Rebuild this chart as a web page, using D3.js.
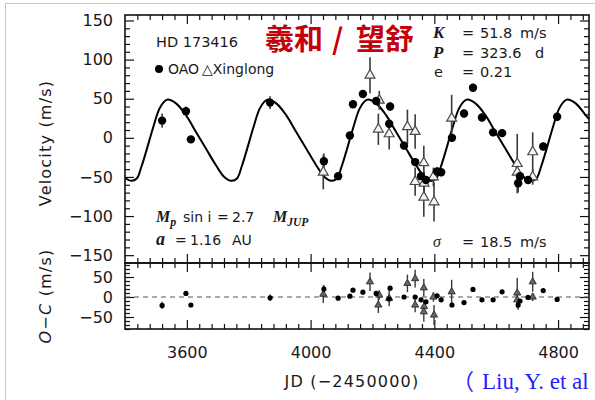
<!DOCTYPE html>
<html>
<head>
<meta charset="utf-8">
<script src="https://cdn.jsdelivr.net/npm/d3@7"></script>
<style>
	body { margin: 0; background: #fff; }
	svg { display: block; }
	text { font-family: "DejaVu Sans", sans-serif; fill: #1a1a1a; }
</style>
</head>
<body>
<div id="chartDiv"></div>
<script>
// OAO velocities (filled dots): JD-2450000, RV, error, O-C
const oaoJD  = [3520, 3597, 3613, 3869, 4043, 4089, 4127, 4137, 4169, 4212, 4254, 4257, 4302, 4338, 4357, 4373, 4409, 4422, 4457, 4496, 4525, 4554, 4590, 4619, 4671, 4677, 4703, 4752, 4797];
const oaoRV  = [22, 34, -2, 45, -30, -49, 3, 43, 56, 47, 18, 40, -10, -31, -49, -54, -43, -44, 0, 31, 64, 26, 7, 6, -58, -49, -54, -11, 27];
const oaoErr = [9, 6, 4, 8, 10, 4, 4, 4, 5, 5, 5, 5, 5, 5, 5, 5, 5, 5, 5, 5, 5, 5, 5, 5, 12, 5, 5, 5, 5];
const oaoOC  = [-21, 9, -20, -2, 20, -3, 2, 17, 12, 9, -5, 22, 0, 0, -7, -12, 3, -7, -20, -14, 19, -7, -7, 13, -20, -10, -1, 16, -6];

// Xinglong velocities (open triangles)
const xlJD  = [4041, 4192, 4222, 4219, 4254, 4313, 4338, 4338, 4366, 4367, 4366, 4399, 4397, 4456, 4668, 4668, 4718, 4718];
const xlRV  = [-44, 80, 48, 11, 5, 14, 8, -56, -32, -58, -76, -82, -50, 25, -33, -44, -18, -50];
const xlErr = [22, 23, 12, 20, 20, 22, 22, 18, 22, 15, 25, 25, 12, 30, 38, 15, 25, 10];
const xlOC  = [7, 38, 5, -20, -3, 34, 46, -20, 23, -24, -37, -45, 0, 13, 10, -7, 38, 0];

// orbital fit
const fitJD = [3400, 3420, 3438, 3453, 3468, 3490, 3511, 3526, 3538, 3565, 3597, 3630, 3662, 3694, 3721,
	3744, 3762, 3777, 3792, 3814, 3835, 3850, 3862, 3889, 3921, 3954, 3986, 4018, 4045,
	4067, 4085, 4100, 4115, 4137, 4158, 4173, 4185, 4212, 4244, 4277, 4309, 4341, 4368,
	4388, 4406, 4421, 4436, 4458, 4479, 4494, 4506, 4533, 4565, 4598, 4630, 4662, 4689,
	4712, 4730, 4745, 4760, 4782, 4803, 4818, 4830, 4857, 4889, 4900];
const fitRV = [-51, -55, -52, -37, -18, 12, 37, 46, 49, 44, 29, 7, -14, -35, -50,
	-55, -52, -37, -18, 12, 37, 46, 49, 44, 29, 7, -14, -35, -50,
	-55, -52, -37, -18, 12, 37, 46, 49, 44, 29, 7, -14, -35, -50,
	-55, -52, -37, -18, 12, 37, 46, 49, 44, 29, 7, -14, -35, -50,
	-55, -52, -37, -18, 12, 37, 46, 49, 44, 29, 24];

const xTicks = [3600, 4000, 4400, 4800];
const velTicks = [-150, -100, -50, 0, 50, 100, 150];
const ocTicks = [-50, 0, 50];

;(function() {
	var width = 595, height = 400;
	var box = { left: 125, right: 589, top: 15, mid: 263, bottom: 329 };

	var svg = d3.select("#chartDiv").append("svg")
		.attr("width", width)
		.attr("height", height);

	// page borders of the screenshot
	svg.append("line").attr("x1", 5).attr("x2", width).attr("y1", 3.5).attr("y2", 3.5).attr("stroke", "#c8c8c8");
	svg.append("line").attr("x1", 5.5).attr("x2", 5.5).attr("y1", 3).attr("y2", height).attr("stroke", "#c8c8c8");

	var x = d3.scaleLinear().domain([3400, 4900]).range([box.left, box.right]);
	var yV = d3.scaleLinear().domain([-160, 157]).range([box.mid, box.top]);
	var yC = d3.scaleLinear().domain([-80, 85]).range([box.bottom, box.mid]);

	var xMinor = d3.range(3440, 4900, 40).filter(v => !xTicks.includes(v));
	var vMinor = d3.range(-150, 151, 10).filter(v => v % 50 !== 0);
	var cMinor = d3.range(-80, 81, 10).filter(v => v % 50 !== 0);

	function ticks(axis, values, size, tx, ty) {
		svg.append("g")
			.attr("transform", "translate(" + tx + "," + ty + ")")
			.call(axis.tickValues(values).tickSize(size).tickFormat(""))
			.call(g => g.select(".domain").remove())
			.selectAll("line").attr("stroke", "#111").attr("stroke-width", 1.2);
	}

	// inward ticks, both panels
	ticks(d3.axisTop(x), xTicks, -9, 0, box.top);
	ticks(d3.axisTop(x), xMinor, -5, 0, box.top);
	ticks(d3.axisBottom(x), xTicks, -9, 0, box.mid);
	ticks(d3.axisBottom(x), xMinor, -5, 0, box.mid);
	ticks(d3.axisTop(x), xTicks, -9, 0, box.mid);
	ticks(d3.axisTop(x), xMinor, -5, 0, box.mid);
	ticks(d3.axisBottom(x), xTicks, -9, 0, box.bottom);
	ticks(d3.axisBottom(x), xMinor, -5, 0, box.bottom);
	ticks(d3.axisLeft(yV), velTicks, -9, box.left, 0);
	ticks(d3.axisLeft(yV), vMinor, -5, box.left, 0);
	ticks(d3.axisRight(yV), velTicks, -9, box.right, 0);
	ticks(d3.axisRight(yV), vMinor, -5, box.right, 0);
	ticks(d3.axisLeft(yC), ocTicks, -9, box.left, 0);
	ticks(d3.axisLeft(yC), cMinor, -5, box.left, 0);
	ticks(d3.axisRight(yC), ocTicks, -9, box.right, 0);
	ticks(d3.axisRight(yC), cMinor, -5, box.right, 0);

	// tick labels
	function labels(axis, values, pad, tx, ty) {
		var g = svg.append("g")
			.attr("transform", "translate(" + tx + "," + ty + ")")
			.call(axis.tickValues(values).tickSize(0).tickPadding(pad).tickFormat(d3.format("d")));
		g.select(".domain").remove();
		g.attr("font-size", 16).attr("font-family", "DejaVu Sans");
		g.selectAll("text").attr("fill", "#1a1a1a");
	}
	labels(d3.axisLeft(yV), velTicks, 12, box.left, 0);
	labels(d3.axisLeft(yC), ocTicks, 12, box.left, 0);
	labels(d3.axisBottom(x), xTicks, 17.5, 0, box.bottom);

	// frames
	svg.append("rect").attr("x", box.left).attr("y", box.top)
		.attr("width", box.right - box.left).attr("height", box.mid - box.top)
		.attr("fill", "none").attr("stroke", "#111").attr("stroke-width", 1.6);
	svg.append("rect").attr("x", box.left).attr("y", box.mid)
		.attr("width", box.right - box.left).attr("height", box.bottom - box.mid)
		.attr("fill", "none").attr("stroke", "#111").attr("stroke-width", 1.6);

	var defs = svg.append("defs");
	defs.append("clipPath").attr("id", "clipV").append("rect")
		.attr("x", box.left).attr("y", box.top).attr("width", box.right - box.left).attr("height", box.mid - box.top);
	defs.append("clipPath").attr("id", "clipC").append("rect")
		.attr("x", box.left).attr("y", box.mid).attr("width", box.right - box.left).attr("height", box.bottom - box.mid);

	var top = svg.append("g").attr("clip-path", "url(#clipV)");
	var bot = svg.append("g").attr("clip-path", "url(#clipC)");

	// zero line in O-C panel
	bot.append("line")
		.attr("x1", box.left).attr("x2", box.right)
		.attr("y1", yC(0)).attr("y2", yC(0))
		.attr("stroke", "#555").attr("stroke-width", 1.2).attr("stroke-dasharray", "5,4");

	// fit curve
	var fit = fitJD.map((d, i) => [d, fitRV[i]]);
	top.append("path")
		.datum(fit)
		.attr("fill", "none")
		.attr("stroke", "#000")
		.attr("stroke-width", 2)
		.attr("d", d3.line().x(d => x(d[0])).y(d => yV(d[1])).curve(d3.curveCatmullRom));

	var oao = oaoJD.map((d, i) => ({ jd: d, rv: oaoRV[i], err: oaoErr[i], oc: oaoOC[i] }));
	var xl = xlJD.map((d, i) => ({ jd: d, rv: xlRV[i], err: xlErr[i], oc: xlOC[i] }));
	var all = oao.concat(xl);

	// error bars
	top.selectAll(".ebar").data(all).enter().append("line")
		.attr("class", "ebar")
		.attr("x1", d => x(d.jd)).attr("x2", d => x(d.jd))
		.attr("y1", d => yV(d.rv - d.err)).attr("y2", d => yV(d.rv + d.err))
		.attr("stroke", "#3a3a3a").attr("stroke-width", 1.6);
	bot.selectAll(".ebar").data(all).enter().append("line")
		.attr("class", "ebar")
		.attr("x1", d => x(d.jd)).attr("x2", d => x(d.jd))
		.attr("y1", d => yC(d.oc - d.err)).attr("y2", d => yC(d.oc + d.err))
		.attr("stroke", "#3a3a3a").attr("stroke-width", 1.4);

	var tri = d3.symbol().type(d3.symbolTriangle);

	// Xinglong triangles
	top.selectAll(".tri").data(xl).enter().append("path")
		.attr("class", "tri")
		.attr("transform", d => "translate(" + x(d.jd) + "," + yV(d.rv) + ")")
		.attr("d", tri.size(42)())
		.attr("fill", "#f4f4f4").attr("stroke", "#4a4a4a").attr("stroke-width", 1.2);
	bot.selectAll(".tri").data(xl).enter().append("path")
		.attr("class", "tri")
		.attr("transform", d => "translate(" + x(d.jd) + "," + yC(d.oc) + ")")
		.attr("d", tri.size(22)())
		.attr("fill", "#666").attr("stroke", "#333").attr("stroke-width", 1);

	// OAO dots
	top.selectAll(".dot").data(oao).enter().append("circle")
		.attr("class", "dot")
		.attr("cx", d => x(d.jd)).attr("cy", d => yV(d.rv))
		.attr("r", 4.2).attr("fill", "#000");
	bot.selectAll(".dot").data(oao).enter().append("circle")
		.attr("class", "dot")
		.attr("cx", d => x(d.jd)).attr("cy", d => yC(d.oc))
		.attr("r", 2.6).attr("fill", "#000");

	// text helpers
	function put(px, py, str, size, style) {
		var t = svg.append("text").attr("x", px).attr("y", py).attr("font-size", size).text(str);
		if (style) Object.keys(style).forEach(k => t.style(k, style[k]));
		return t;
	}
	var serifBI = { "font-family": "'Liberation Serif', serif", "font-style": "italic", "font-weight": "bold" };

	// axis titles
	svg.append("text")
		.attr("transform", "translate(51,143) rotate(-90)")
		.attr("text-anchor", "middle")
		.attr("font-size", 16)
		.style("letter-spacing", "1.2px")
		.text("Velocity (m/s)");
	var oc = svg.append("text")
		.attr("transform", "translate(51,296) rotate(-90)")
		.attr("text-anchor", "middle")
		.attr("font-size", 16)
		.style("letter-spacing", "1.2px");
	oc.append("tspan").style("font-style", "italic").text("O−C");
	oc.append("tspan").text(" (m/s)");
	put(352, 387, "JD (−2450000)", 16, { "letter-spacing": "1.2px" }).attr("text-anchor", "middle");

	// star + legend
	put(156, 46.5, "HD 173416", 14.5);
	svg.append("circle").attr("cx", 159).attr("cy", 69).attr("r", 4).attr("fill", "#000");
	put(168, 73.5, "OAO", 14);
	put(202, 73.5, "△Xinglong", 14);

	// orbit parameters
	put(433, 38, "K", 17, serifBI);
	put(462, 38, "=", 14.5);
	put(480, 38, "51.8", 14.5);
	put(520, 38, "m/s", 14.5);
	put(433, 57.5, "P", 17, serifBI);
	put(462, 57.5, "=", 14.5);
	put(480, 57.5, "323.6", 14.5);
	put(535, 57.5, "d", 14.5);
	put(434, 77, "e", 14.5);
	put(462, 77, "=", 14.5);
	put(480, 77, "0.21", 14.5);

	put(433, 247, "σ", 16, { "font-family": "'Liberation Serif', serif", "font-style": "italic" });
	put(462, 247, "=", 14.5);
	put(480, 247, "18.5", 14.5);
	put(520, 247, "m/s", 14.5);

	var mp = put(156, 222, "", 16);
	mp.append("tspan").style("font-family", "'Liberation Serif', serif").style("font-style", "italic").style("font-weight", "bold").text("M");
	mp.append("tspan").attr("dy", 4).attr("font-size", 12).style("font-family", "'Liberation Serif', serif").style("font-style", "italic").style("font-weight", "bold").text("p");
	put(183, 222, "sin i", 14);
	put(217, 222, "=", 14);
	put(232, 222, "2.7", 14);
	var mj = put(273, 222, "", 16);
	mj.append("tspan").style("font-family", "'Liberation Serif', serif").style("font-style", "italic").style("font-weight", "bold").text("M");
	mj.append("tspan").attr("dy", 4).attr("font-size", 11.5).style("font-family", "'Liberation Serif', serif").style("font-style", "italic").style("font-weight", "bold").text("JUP");
	put(156, 245, "a", 18, serifBI);
	put(175, 245, "=", 14);
	put(190, 245, "1.16", 14);
	put(232, 245, "AU", 14);

	// red Chinese title
	var red = { "font-family": "'Noto Sans CJK SC', sans-serif", "font-weight": "bold", "fill": "#c4000a" };
	put(265, 49.5, "羲和", 29, red);
	put(332, 49.5, "/", 29, red);
	put(356, 49.5, "望舒", 29, red);

	// citation
	put(452, 389, "（", 22, { "font-family": "'Noto Sans CJK SC', serif", "fill": "#1f1fff" });
	put(482, 389, "Liu, Y. et al", 23, { "font-family": "'Liberation Serif', serif", "fill": "#1f1fff" });
})();
</script>
</body>
</html>
